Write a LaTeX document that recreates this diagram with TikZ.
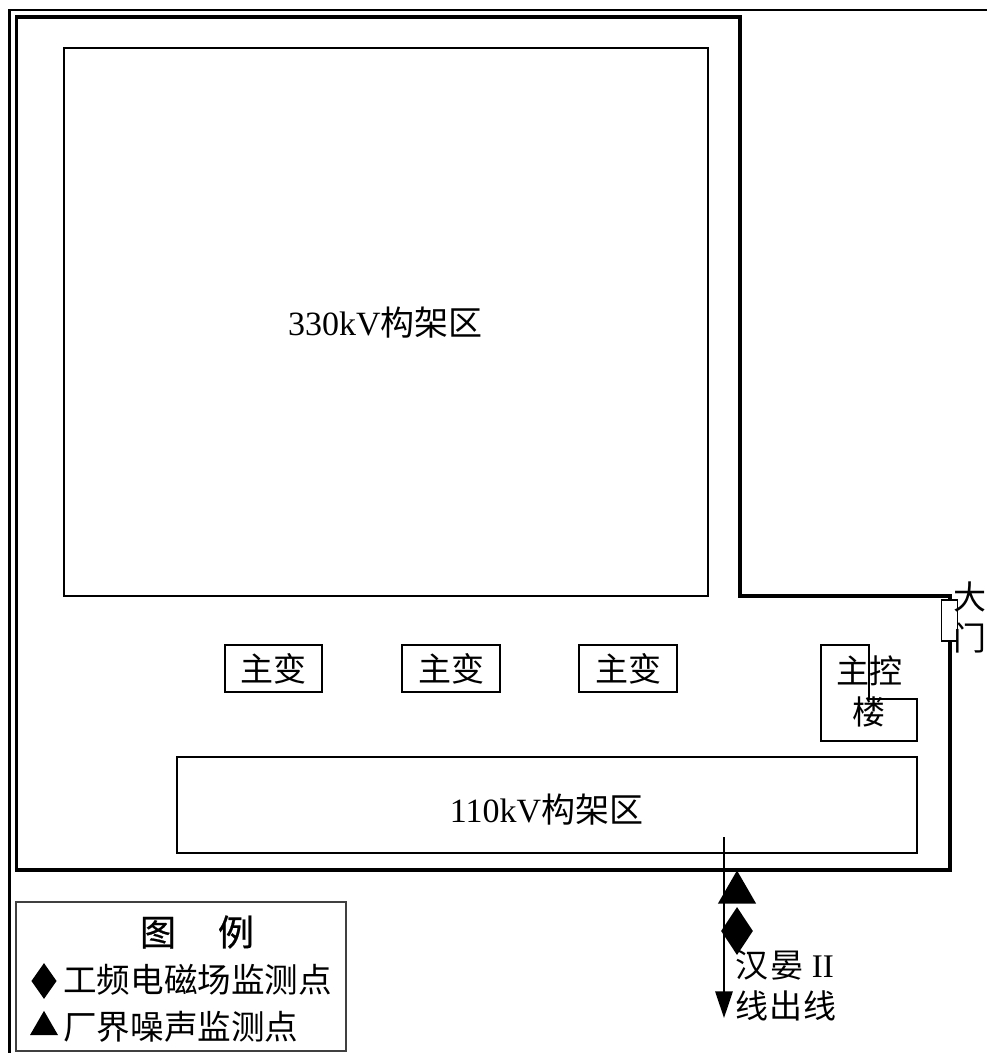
\documentclass[tikz,border=0pt]{standalone}
\usepackage{fontspec}
\setmainfont{Liberation Serif}
\newfontfamily\cjk{Noto Sans CJK SC}
\newfontfamily\cjkheavy[FakeBold=0.6]{Noto Sans CJK SC}
\usetikzlibrary{arrows.meta,shapes.geometric}
\tikzset{
  x=0.75pt,y=-0.75pt,
  areabox/.style={draw,line width=1.1pt,rectangle,inner sep=0pt},
  wall/.style={draw,line width=2.3pt,line join=miter},
  frameline/.style={draw,line width=2.2pt},
  lbl/.style={inner sep=0pt,font=\fontsize{24.75pt}{27pt}\selectfont},
  lblb/.style={inner sep=0pt,font=\fontsize{25.5pt}{27pt}\selectfont},
  lbll/.style={inner sep=0pt,font=\fontsize{25.2pt}{27pt}\selectfont},
  solidmark/.style={fill=black,draw=none,inner sep=0pt},
}
\begin{document}
\begin{tikzpicture}
\useasboundingbox (0,0) rectangle (987,1053);
% outer frame
\coordinate (fa) at (987,10);
\coordinate (fb) at (9.5,10);
\coordinate (fc) at (9.5,1053);
\draw[frameline] (fa) -- (fb) -- (fc);
% boundary wall
\coordinate (w1) at (16.5,17);
\coordinate (w2) at (740,17);
\coordinate (w3) at (740,596);
\coordinate (w4) at (950,596);
\coordinate (w5) at (950,870);
\coordinate (w6) at (16.5,870);
\draw[wall] (w1) -- (w2) -- (w3) -- (w4) -- (w5) -- (w6) -- cycle;
% areas
\node[areabox,minimum width=483pt,minimum height=411pt] (a330) at (386,322) {};
\node[lblb] (t330) at (385.5,323) {330kV{\cjk 构架区}};
\node[areabox,minimum width=555pt,minimum height=72pt] (a110) at (547,805) {};
\node[lblb] (t110) at (546.5,810) {110kV{\cjk 构架区}};
% transformers
\node[areabox,minimum width=72.75pt,minimum height=35.25pt,font=\fontsize{24.75pt}{27pt}\selectfont\cjk] (t1) at (273.5,668.5) {主变};
\node[areabox,minimum width=73.5pt,minimum height=35.25pt,font=\fontsize{24.75pt}{27pt}\selectfont\cjk] (t2) at (451,668.5) {主变};
\node[areabox,minimum width=73.5pt,minimum height=35.25pt,font=\fontsize{24.75pt}{27pt}\selectfont\cjk] (t3) at (628,668.5) {主变};
% control building
\coordinate (c1) at (821,645);
\coordinate (c2) at (869,645);
\coordinate (c3) at (869,699);
\coordinate (c4) at (917,699);
\coordinate (c5) at (917,741);
\coordinate (c6) at (821,741);
\draw[line width=1.1pt] (c1) -- (c2) -- (c3) -- (c4) -- (c5) -- (c6) -- cycle;
\node[lbl] (zk) at (869,671) {\cjk 主控};
\node[lbl] (lou) at (869,712) {\cjk 楼};
% gate
\node[draw,fill=white,line width=1.1pt,minimum width=12pt,minimum height=30.5pt,inner sep=0pt] (gate) at (949.5,620.5) {};
\node[lbl] (da) at (970,597) {\cjk 大};
\node[lbl] (men) at (970,638) {\cjk 门};
% outgoing line
\coordinate (ls) at (724,837);
\coordinate (le) at (724,1018);
\draw[line width=1.5pt,-{Triangle[length=20pt,width=13pt]}] (ls) -- (le);
\node[solidmark,isosceles triangle,isosceles triangle apex angle=60,shape border rotate=90,minimum height=24.75pt,minimum width=28.5pt] (mtri) at (737,892.5) {};
\node[solidmark,diamond,minimum width=24pt,minimum height=36pt] (mdia) at (737,931) {};
\node[lbl,anchor=west] (hy) at (735,965) {\cjk 汉\kern2pt 晏\kern6pt{\rmfamily II}};
\node[lbl,anchor=west] (cx) at (735,1006) {\cjk 线\kern1pt 出\kern1pt 线};
% legend
\node[draw=black!75,line width=0.9pt,minimum width=247.5pt,minimum height=111.75pt,inner sep=0pt] (legend) at (181,976.5) {};
\node[inner sep=0pt,font=\fontsize{27pt}{30pt}\selectfont] (lt) at (197,932) {\cjkheavy 图\kern31.5pt 例};
\node[solidmark,diamond,minimum width=19pt,minimum height=27pt] (ld) at (44,981) {};
\node[lbll,anchor=west] (l1) at (63,980) {\cjk 工频电磁场监测点};
\node[solidmark,isosceles triangle,isosceles triangle apex angle=60,shape border rotate=90,minimum height=18pt,minimum width=21pt] (lm) at (44,1027) {};
\node[lbll,anchor=west] (l2) at (63,1027) {\cjk 厂界噪声监测点};
\end{tikzpicture}
\end{document}
